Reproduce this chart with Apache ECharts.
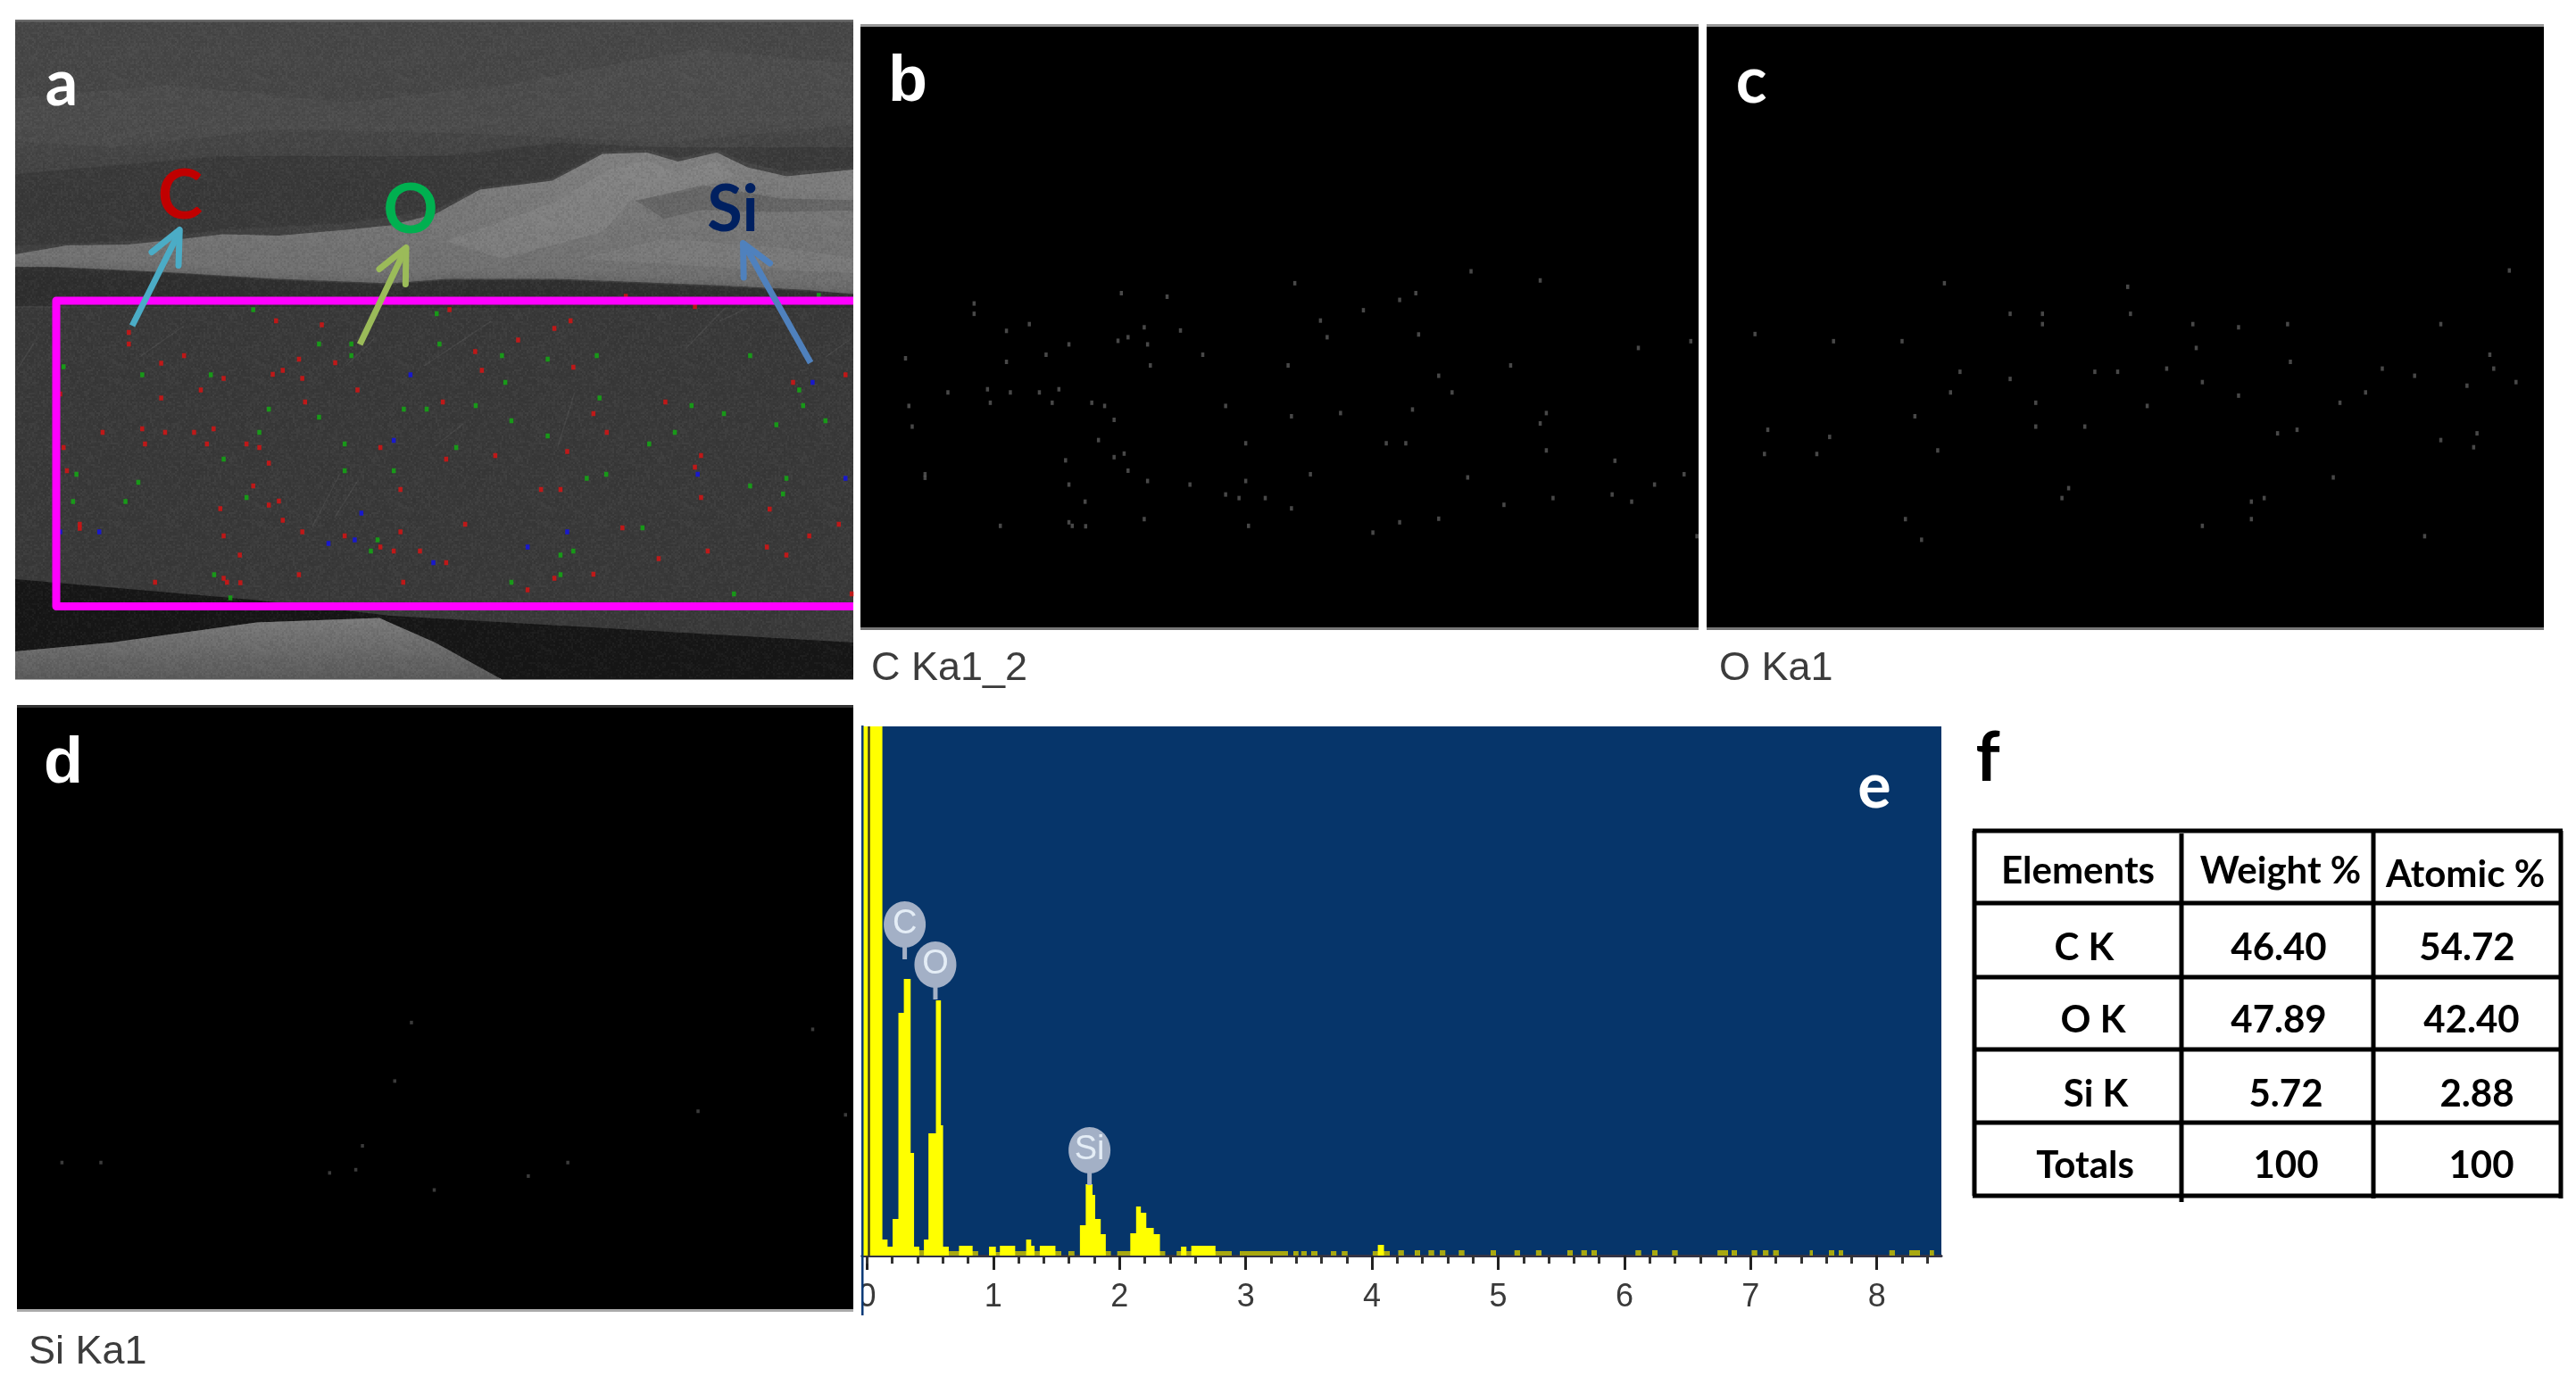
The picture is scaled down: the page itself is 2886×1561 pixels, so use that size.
<!DOCTYPE html>
<html><head><meta charset="utf-8">
<style>html,body{margin:0;padding:0;background:#fff}#c{width:2886px;height:1561px}</style>
<script src="https://cdn.jsdelivr.net/npm/echarts@6/dist/echarts.min.js"></script>
</head><body><div id="c"></div>
<script>
// Element-map dots, as [x, y] on the micrograph
const carbonDots=[[231,745],[231,771],[495,719],[577,728],[806,694],[1023,719],[994,736],[1246,687],[1122,664],[929,762],[852,788],[536,805],[601,813],[330,797],[289,814],[507,830],[489,839],[542,848],[401,848],[864,830],[1028,823],[1516,840],[1422,857],[360,874],[641,874],[108,883],[289,892],[547,901],[794,901],[1193,901],[1064,927],[184,969],[255,961],[296,969],[348,969],[383,961],[1088,969],[260,995],[371,995],[442,995],[465,1003],[114,1003],[682,1003],[1017,1012],[888,1021],[800,1029],[1257,1021],[482,1038],[1246,1047],[120,1055],[454,1089],[718,1097],[970,1097],[1005,1097],[1257,1115],[500,1123],[482,1132],[395,1140],[1380,1141],[507,1166],[143,1175],[143,1184],[834,1175],[1116,1183],[1504,1175],[542,1192],[718,1192],[401,1201],[618,1201],[1451,1201],[682,1226],[706,1235],[753,1235],[1375,1226],[1269,1235],[430,1244],[1410,1244],[1181,1252],[800,1261],[536,1288],[1064,1287],[401,1296],[407,1305],[431,1306],[278,1305],[723,1305],[994,1296],[946,1322],[1527,1331]];
const oxygenDots=[[454,694],[783,703],[572,771],[630,771],[630,797],[788,771],[900,797],[982,805],[1070,797],[1345,797],[114,822],[255,840],[378,840],[906,857],[1433,874],[1075,892],[1440,909],[853,909],[482,917],[724,917],[765,917],[1240,909],[1298,927],[572,935],[917,943],[1480,943],[1392,952],[465,969],[982,977],[1210,969],[1164,995],[618,995],[818,1003],[401,1029],[618,1055],[706,1055],[137,1063],[1087,1063],[1052,1072],[1410,1072],[248,1081],[1345,1089],[1404,1107],[442,1115],[131,1124],[225,1124],[1152,1183],[677,1210],[665,1235],[1028,1235],[1005,1244],[384,1288],[1005,1288],[917,1305],[1316,1331],[413,1340],[1468,662]];
const siliconDots=[[736,840],[1457,857],[706,987],[1251,1063],[1516,1072],[648,1150],[108,1192],[178,1192],[1017,1192],[589,1218],[636,1210],[946,1226],[777,1261]];

// EDS spectrum: left edge of each step (keV) and its height
const spectrumEnergy=[-0.04,0.121,0.162,0.202,0.248,0.291,0.345,0.372,0.413,0.45,0.486,0.545,0.585,0.602,0.647,0.728,0.836,0.877,0.966,1.02,1.052,1.173,1.26,1.3,1.327,1.368,1.492,1.538,1.597,1.64,1.686,1.732,1.786,1.807,1.851,1.891,1.929,1.983,2.085,2.131,2.169,2.212,2.271,2.32,2.36,2.455,2.487,2.53,2.568,2.76,2.886,2.954,3.332,3.377,3.415,3.44,3.48,3.52,3.566,3.674,3.717,3.763,3.804,4.006,4.046,4.095,4.14,4.21,4.25,4.34,4.38,4.45,4.49,4.54,4.58,4.69,4.73,4.94,4.98,5.13,5.17,5.3,5.34,5.55,5.59,5.66,5.7,5.74,5.78,6.09,6.13,6.22,6.26,6.38,6.42,6.74,6.82,6.85,6.89,7.01,7.05,7.1,7.14,7.18,7.22,7.47,7.49,7.62,7.66,7.7,7.73,8.1,8.14,8.26,8.34,8.42,8.45,8.511];
const spectrumCounts=[900,18,10,41,272,310,115,10,6,18,137,286,146,10,5,11,5,0,10,4,11,5,18,11,5,11,5,0,5,0,34,80,68,41,24,5,0,5,25,55,48,31,24,5,0,5,10,5,11,5,0,5,0,5,0,5,0,5,0,5,0,5,0,5,12,5,0,6,0,6,0,6,0,6,0,6,0,6,0,6,0,6,0,6,0,6,0,6,0,6,0,6,0,6,0,6,0,6,0,6,0,6,0,6,0,6,0,6,0,6,0,6,0,6,0,6,0,0];
const majorTicks=[0,1,2,3,4,5,6,7,8];
const minorTicks=[0,0.2,0.4,0.6,0.8,1.2,1.4,1.6,1.8,2.2,2.4,2.6,2.8,3.2,3.4,3.6,3.8,4.2,4.4,4.6,4.8,5.2,5.4,5.6,5.8,6.2,6.4,6.6,6.8,7.2,7.4,7.6,7.8,8.2,8.4];
const peakNames=['C','O','Si'];
const peakEnergy=[0.298,0.541,1.762];
const peakTop=[332,287,79];

// Table f
const tableHeader=['Elements','Weight %','Atomic %'];
const tableElements=['C K','O K','Si K','Totals'];
const tableWeight=['46.40','47.89','5.72','100'];
const tableAtomic=['54.72','42.40','2.88','100'];

const lato='Lato, "Noto Sans", sans-serif', arial='"Liberation Sans", Arial, sans-serif';
const P=pts=>pts.map(p=>[p[0]/1.6,p[1]/2]);
const poly=(pts,fill,z)=>({type:'polygon',z:z||1,silent:true,shape:{points:P(pts)},style:{fill}});
const soft=(pts,fill,blur)=>({type:'polygon',z:1,silent:true,shape:{points:P(pts)},style:{fill,shadowBlur:blur||24,shadowColor:fill}});
const vgrad=(a,b)=>({type:'linear',x:0,y:0,x2:0,y2:1,colorStops:[{offset:0,color:a},{offset:1,color:b}]});
const txt=(text,x,y,font,fill,z)=>({type:'text',z:z||100,silent:true,x,y,style:{text,font,fill,textAlign:'center',textVerticalAlign:'middle'}});
const line=(pts,stroke,w,z,cap)=>({type:'polyline',z:z||100,silent:true,shape:{points:pts},style:{stroke,lineWidth:w,fill:'none',lineCap:cap||'butt',lineJoin:'round'}});
const mask=(x,y,width,height,fill)=>({type:'rect',z:1.8,silent:true,shape:{x,y,width,height},style:{fill}});

// fine grain laid over the micrograph (decoration only)
const tile=document.createElement('canvas');tile.width=tile.height=160;
(function(){const t=tile.getContext('2d');let s=12345;
 for(let y=0;y<160;y+=2)for(let x=0;x<160;x+=2){s=(s*1103515245+12345)&0x7fffffff;const v=(s>>8)%100;
  t.fillStyle=v<50?'rgba(0,0,0,'+(v/50*0.07)+')':'rgba(255,255,255,'+((v-50)/50*0.04)+')';t.fillRect(x,y,2,2);}})();

// faint scratches in the cross-section (decoration only)
const scratches=[[[250,800],[330,730]],[[1290,720],[1340,690]],[[560,1180],[610,1060]],[[600,1160],[640,1080]],[[780,1000],[830,950]],[[760,820],[880,720]],[[1000,1000],[1030,880]],[[1230,780],[1300,690]],[[620,820],[670,760]],[[30,830],[60,770]],[[1480,800],[1525,760]]];

const gfx=[
 // micrograph
 {type:'rect',z:1,silent:true,shape:{x:17,y:23,width:939,height:737},style:{fill:vgrad('#474747','#3a3a3a')}},
 soft([[-60,230],[300,190],[620,230],[900,190],[1250,110],[1600,150],[1600,270],[1200,320],[850,300],[500,290],[200,330],[-60,310]],'rgba(88,88,88,0.28)',40),
 soft([[-60,400],[400,350],[800,350],[1000,320],[1180,330],[1600,330],[1600,370],[1410,385],[1340,365],[1285,335],[1215,355],[1160,335],[1080,340],[990,400],[860,420],[780,470],[620,500],[400,515],[230,540],[-60,555]],'rgba(48,48,48,0.45)',30),
 poly([[27,570],[120,550],[230,548],[330,535],[400,525],[500,528],[620,515],[700,505],[780,480],[860,425],[990,405],[1080,345],[1160,342],[1215,362],[1285,342],[1340,375],[1410,395],[1530,380],[1530,660],[1450,650],[1300,640],[1000,625],[800,625],[700,635],[500,625],[300,610],[100,598],[27,598]],vgrad('#7f7f7f','#6c6c6c')),
 soft([[800,540],[1000,450],[1090,380],[1160,360],[1210,385],[1285,360],[1320,395],[1230,430],[1130,450],[1080,520],[900,580]],'rgba(150,150,150,0.25)',20),
 soft([[1140,450],[1260,415],[1400,445],[1600,450],[1600,470],[1380,475],[1260,470],[1190,490]],'rgba(75,75,75,0.35)',14),
 soft([[1040,580],[1190,535],[1400,555],[1600,590],[1600,615],[1300,600]],'rgba(150,150,150,0.2)',14),
 soft([[-60,598],[100,600],[300,612],[500,628],[700,638],[800,628],[1000,628],[1300,643],[1450,653],[1600,662],[1600,695],[-60,685]],'rgba(34,34,34,0.5)',14),
 poly([[27,690],[1530,690],[1530,1440],[700,1380],[460,1345],[27,1298]],'#393939'),
 ...scratches.map(s=>({type:'polyline',z:1,silent:true,shape:{points:P(s)},style:{stroke:'rgba(100,100,100,0.3)',lineWidth:1.5,fill:'none'}})),
 poly([[27,1298],[460,1345],[700,1380],[1530,1440],[1530,1523],[900,1523],[680,1385],[460,1395],[200,1440],[27,1460]],'#161616'),
 poly([[27,1460],[200,1440],[460,1395],[680,1385],[780,1440],[900,1523],[27,1523]],vgrad('#7a7a7a','#5a5a5a')),
 {type:'rect',z:1.5,silent:true,shape:{x:17,y:23,width:939,height:737},style:{fill:{image:tile,repeat:'repeat'}}},
 // keep the soft shapes inside the micrograph frame
 mask(0,0,17,780,'#fff'), mask(0,0,1100,22,'#fff'), mask(956,0,8,780,'#fff'),
 mask(964,30,120,673,'#000'), mask(964,22,120,5,'#fff'),
 {type:'rect',z:1.9,silent:true,shape:{x:17,y:22,width:939,height:2.5},style:{fill:'#6a6a6a'}},
 // magenta region and arrows
 line([[956,337],[63,337],[63,679.5],[956,679.5]],'#FF00FF',9,50),
 line(P([[237,730],[322,518]]),'#4BACC6',7,51),
 line(P([[272,565],[322,515],[320,595]]),'#4BACC6',7,51,'round'),
 line(P([[645,772],[726,560]]),'#9BBB59',7,51),
 line(P([[680,603],[728,555],[727,637]]),'#9BBB59',7,51,'round'),
 line(P([[1453,813],[1336,552]]),'#4F81BD',7,51),
 line(P([[1333,622],[1332,545],[1380,590]]),'#4F81BD',7,51,'round'),
 txt('C',202,220,'bold 76px '+lato,'#C00000'),
 txt('O',460,236,'bold 76px '+lato,'#00B050'),
 txt('Si',821,236,'bold 72px '+lato,'#002060'),
 // panel letters
 txt('a',69,95,'bold 72px '+lato,'#fff'),
 txt('b',1017,93,'bold 72px '+arial,'#fff'),
 txt('c',1962,92,'bold 72px '+lato,'#fff'),
 txt('d',71,857,'bold 72px '+arial,'#fff'),
 txt('e',2100,882,'bold 70px '+lato,'#fff'),
 txt('f',2227,850,'bold 76px '+lato,'#000'),
 // map borders
 {type:'rect',z:60,silent:true,shape:{x:964,y:27,width:939,height:3},style:{fill:'#999'}},
 {type:'rect',z:60,silent:true,shape:{x:1912,y:27,width:938,height:3},style:{fill:'#999'}},
 {type:'rect',z:60,silent:true,shape:{x:964,y:703,width:939,height:3},style:{fill:'#777'}},
 {type:'rect',z:60,silent:true,shape:{x:1912,y:703,width:938,height:3},style:{fill:'#777'}},
 {type:'rect',z:60,silent:true,shape:{x:19,y:790,width:937,height:3},style:{fill:'#333'}},
 {type:'rect',z:60,silent:true,shape:{x:19,y:1467,width:937,height:3},style:{fill:'#aaa'}},
 // captions
 {type:'text',z:100,silent:true,x:976,y:750,style:{text:'C Ka1_2',font:'45px '+arial,fill:'#3c3c3c',textVerticalAlign:'middle'}},
 {type:'text',z:100,silent:true,x:1926,y:750,style:{text:'O Ka1',font:'45px '+arial,fill:'#3c3c3c',textVerticalAlign:'middle'}},
 {type:'text',z:100,silent:true,x:32,y:1516,style:{text:'Si Ka1',font:'45px '+arial,fill:'#3c3c3c',textVerticalAlign:'middle'}},
 // left edge of spectrum panel, which cuts the 0 label
 {type:'rect',z:100,silent:true,shape:{x:957,y:1424,width:8,height:60},style:{fill:'#fff'}},
 {type:'rect',z:101,silent:true,shape:{x:965,y:813,width:2.5,height:661},style:{fill:'#0A3A78'}}
];
// table rules
[[2212,931,2212,1340],[2444,934,2444,1347],[2659,931,2659,1343],[2869,931,2869,1343]].forEach(l=>gfx.push(line([[l[0],l[1]],[l[2],l[3]]],'#000',5,90)));
[931,1012,1095,1176,1258,1340].forEach(y=>gfx.push(line([[2210,y],[2871,y]],'#000',5,90)));
const tf='bold 42px '+lato;
[[2328,976],[2555,976],[2762,980]].forEach((p,i)=>gfx.push(txt(tableHeader[i],p[0],p[1],tf,'#000')));
const rowY=[1062,1143,1226,1306];
const col0=[2335,2345,2348,2336],col1=[2553,2553,2561,2561],col2=[2764,2769,2775,2780];
rowY.forEach((y,i)=>{
 gfx.push(txt(tableElements[i],col0[i],y,tf,'#000'));
 gfx.push(txt(tableWeight[i],col1[i],y,tf,'#000'));
 gfx.push(txt(tableAtomic[i],col2[i],y,tf,'#000'));
});

const mapX={min:27.2,max:1530,show:false,type:'value'};
const mapY={min:46,max:1565,show:false,type:'value',inverse:true};
const stepPairs=spectrumEnergy.map((e,i)=>[e,spectrumCounts[i]]);
const lowPairs=spectrumEnergy.map((e,i)=>[e,spectrumCounts[i]<=6?spectrumCounts[i]:0]);
const dots=(name,data,color,gi,size)=>({name,type:'scatter',xAxisIndex:gi,yAxisIndex:gi,data,symbol:'rect',symbolSize:size,itemStyle:{color},silent:true,animation:false});

const option={
 animation:false,backgroundColor:'#fff',
 grid:[
  {left:17,top:23,width:939,height:737},
  {left:964,top:29,width:939,height:676,show:true,backgroundColor:'#000',borderWidth:0},
  {left:1912,top:29,width:938,height:676,show:true,backgroundColor:'#000',borderWidth:0},
  {left:19,top:792,width:937,height:677,show:true,backgroundColor:'#000',borderWidth:0},
  {left:965.8,top:814,width:1209.2,height:593,show:true,backgroundColor:'#06356A',borderWidth:0}
 ],
 xAxis:[
  {...mapX,gridIndex:0},{...mapX,gridIndex:1},{...mapX,gridIndex:2},{...mapX,gridIndex:3},
  {type:'value',gridIndex:4,min:-0.04,max:8.511,position:'bottom',splitLine:{show:false},
   axisLine:{onZero:false,lineStyle:{color:'#333344',width:3}},
   axisTick:{length:16,customValues:majorTicks,lineStyle:{color:'#222',width:3}},
   axisLabel:{customValues:majorTicks,margin:29,fontFamily:arial,fontSize:36,color:'#3a3a3a',formatter:v=>String(v)}},
  {type:'value',gridIndex:4,min:-0.04,max:8.511,position:'bottom',splitLine:{show:false},
   axisLine:{show:false},axisLabel:{show:false},
   axisTick:{length:9,customValues:minorTicks,lineStyle:{color:'#333',width:3}}}
 ],
 yAxis:[
  {...mapY,gridIndex:0,max:1520},{...mapY,gridIndex:1},{...mapY,gridIndex:2},{...mapY,gridIndex:3},
  {type:'value',gridIndex:4,min:0,max:593,show:false}
 ],
 series:[
  dots('C map a',carbonDots,'#E01010',0,[4.5,5.5]),
  dots('O map a',oxygenDots,'#10B010',0,[4.5,5.5]),
  dots('Si map a',siliconDots,'#1010F0',0,[4.5,5.5]),
  dots('C Ka1_2',carbonDots,'#5a5a5a',1,[3.5,5]),
  dots('O Ka1',oxygenDots,'#5a5a5a',2,[3.5,5]),
  dots('Si Ka1',siliconDots,'#4a4a4a',3,[3.5,4]),
  {name:'Spectrum',type:'line',xAxisIndex:4,yAxisIndex:4,step:'end',data:stepPairs,showSymbol:false,symbol:'none',
   lineStyle:{width:0},areaStyle:{color:'#FFFF00',opacity:1},silent:true,animation:false,z:3,
   markLine:{silent:true,symbol:'none',animation:false,label:{show:false},lineStyle:{color:'#3a3a20',width:2.5,type:'solid'},data:[{xAxis:0.0135}]}},
  {name:'Low counts',type:'line',xAxisIndex:4,yAxisIndex:4,step:'end',data:lowPairs,showSymbol:false,symbol:'none',
   lineStyle:{width:0},areaStyle:{color:'#A8A810',opacity:1},silent:true,animation:false,z:4},
  {name:'Peaks',type:'custom',xAxisIndex:4,yAxisIndex:4,silent:true,animation:false,z:5,clip:false,
   data:peakEnergy.map((e,i)=>[e,peakTop[i],i]),
   renderItem:(params,api)=>{
    const p=api.coord([api.value(0),api.value(1)]);const cy=p[1]-39;
    return {type:'group',children:[
     {type:'rect',shape:{x:p[0]-2.5,y:cy,width:5,height:39},style:{fill:'#A3B0C6'}},
     {type:'ellipse',shape:{cx:p[0],cy,rx:23.5,ry:26},style:{fill:'#A3B0C6'}},
     {type:'text',x:p[0],y:cy,style:{text:peakNames[api.value(2)],font:'38px '+arial,fill:'#E4EDF6',textAlign:'center',textVerticalAlign:'middle'}}
    ]};
   }}
 ],
 graphic:{elements:gfx}
};
const chart=echarts.init(document.getElementById('c'),null,{renderer:'canvas',width:2886,height:1561});
chart.setOption(option);
</script></body></html>
